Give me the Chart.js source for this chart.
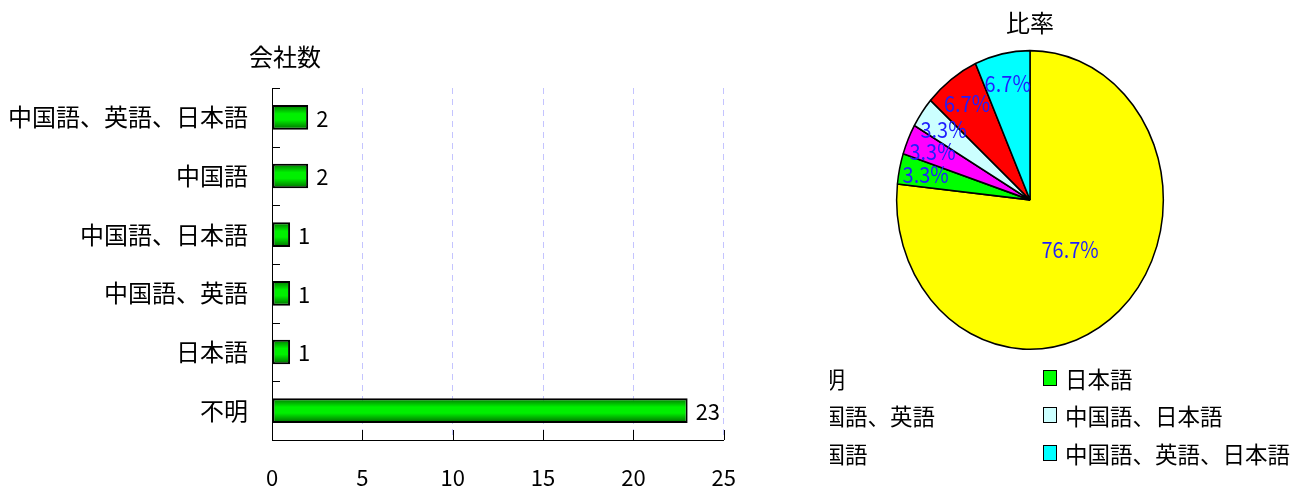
<!DOCTYPE html>
<html>
<head>
<meta charset="utf-8">
<script src="https://cdn.jsdelivr.net/npm/chart.js@4/dist/chart.umd.min.js"></script>
<style>
    body { margin: 0; background: #fff; width: 1307px; height: 493px; position: relative; overflow: hidden; }
    #barChart { position: absolute; left: 0; top: 0; }
    #pieWrap { position: absolute; left: 830px; top: 0; width: 477px; height: 493px; overflow: hidden; }
    #pieChart { position: absolute; left: 0; top: 0; }
    #pieLegend {
        position: absolute; left: -52px; top: 359px;
        display: grid; grid-template-columns: 265px 265px;
        font-family: 'Noto Sans CJK JP', sans-serif; font-size: 22.5px; color: #000;
    }
    #pieLegend .item { height: 37.5px; display: flex; align-items: center; white-space: nowrap; }
    #pieLegend .box { width: 12px; height: 14px; border: 1.5px solid #000; margin-right: 8px; flex: none; }
</style>
</head>
<body>
<canvas id="barChart" width="760" height="493"></canvas>
<div id="pieWrap">
    <canvas id="pieChart" width="400" height="360"></canvas>
    <div id="pieLegend"></div>
</div>
<script>
// 回答企業の使用言語
const categories = ['不明', '日本語', '中国語、英語', '中国語、日本語', '中国語', '中国語、英語、日本語'];
const companyCounts = [23, 1, 1, 1, 2, 2];
const shares = [76.7, 3.3, 3.3, 3.3, 6.7, 6.7];
const xTicks = [0, 5, 10, 15, 20, 25];
const sliceColors = ['#ffff00', '#00ff00', '#ff00ff', '#ccffff', '#ff0000', '#00ffff'];

const FONT = "'Noto Sans CJK JP', sans-serif";

// 棒の内側の目盛り、数値ラベル、タイトル
var barDecor = {
    id: 'barDecor',
    afterDatasetsDraw: function (chart) {
        var ctx = chart.ctx;
        var meta = chart.getDatasetMeta(0);
        ctx.save();
        ctx.fillStyle = '#000';
        ctx.font = '22px ' + FONT;
        ctx.textAlign = 'left';
        ctx.textBaseline = 'middle';
        meta.data.forEach(function (bar, i) {
            ctx.fillText(companyCounts[i], bar.x + 8, bar.y + 1);
        });
        ctx.restore();
    },
    afterDraw: function (chart) {
        var ctx = chart.ctx;
        var a = chart.chartArea;
        var x = chart.scales.x, y = chart.scales.y;
        ctx.save();
        ctx.strokeStyle = '#000';
        ctx.lineWidth = 1;
        ctx.beginPath();
        x.ticks.forEach(function (t) {
            var px = Math.round(x.getPixelForValue(t.value)) + 0.5;
            ctx.moveTo(px, a.bottom);
            ctx.lineTo(px, a.bottom - 10);
        });
        for (var i = 0; i <= categories.length; i++) {
            var py = Math.round(y.getPixelForValue(i - 0.5)) + 0.5;
            ctx.moveTo(a.left, py);
            ctx.lineTo(a.left + 8, py);
        }
        ctx.stroke();

        ctx.fillStyle = '#000';
        ctx.font = '24px ' + FONT;
        ctx.textAlign = 'center';
        ctx.textBaseline = 'middle';
        ctx.fillText('会社数', a.left + 13, 57);
        ctx.restore();
    }
};

var barCtx = document.getElementById('barChart').getContext('2d');
var barChart = new Chart(barCtx, {
    type: 'bar',
    data: {
        labels: categories,
        datasets: [{
            data: companyCounts,
            backgroundColor: function (c) {
                var y = c.chart.scales.y;
                if (!y || y.top === undefined) {
                    return '#00e000';
                }
                var mid = y.getPixelForValue(c.dataIndex);
                var g = c.chart.ctx.createLinearGradient(0, mid - 12, 0, mid + 12);
                g.addColorStop(0, '#007800');
                g.addColorStop(0.35, '#00f000');
                g.addColorStop(0.6, '#00f000');
                g.addColorStop(1, '#006c00');
                return g;
            },
            borderColor: '#000',
            borderWidth: 2,
            borderSkipped: false,
            barPercentage: 0.42,
            categoryPercentage: 1,
        }],
    },
    options: {
        indexAxis: 'y',
        responsive: false,
        animation: false,
        layout: {
            padding: { left: 0, top: 88, right: 36, bottom: 0 },
        },
        plugins: {
            legend: { display: false },
            tooltip: { enabled: false },
        },
        scales: {
            x: {
                min: 0,
                max: 25,
                afterBuildTicks: function (scale) {
                    scale.ticks = xTicks.map(function (v) { return { value: v }; });
                },
                afterFit: function (scale) {
                    scale.height = 53;
                },
                grid: {
                    color: function (c) {
                        return c.tick && c.tick.value === 0 ? 'rgba(0,0,0,0)' : '#c4c4ff';
                    },
                    lineWidth: 1,
                    drawTicks: false,
                },
                border: { display: true, color: '#000', width: 1, dash: [6, 5] },
                ticks: {
                    color: '#000',
                    font: { family: FONT, size: 22 },
                    padding: 24,
                    maxRotation: 0,
                },
            },
            y: {
                reverse: true,
                afterFit: function (scale) {
                    scale.width = 272;
                },
                grid: { display: false, drawTicks: false },
                border: { display: true, color: '#000', width: 1 },
                ticks: {
                    color: '#000',
                    font: { family: FONT, size: 24 },
                    padding: 24,
                },
            },
        },
    },
    plugins: [barDecor],
});

// 円グラフは縦に少し伸ばして描く
var PIE_STRETCH = 1.12;
var pieDecor = {
    id: 'pieDecor',
    beforeDatasetsDraw: function (chart) {
        var arc = chart.getDatasetMeta(0).data[0];
        var ctx = chart.ctx;
        ctx.save();
        ctx.translate(arc.x, arc.y);
        ctx.scale(1, PIE_STRETCH);
        ctx.translate(-arc.x, -arc.y);
    },
    afterDatasetsDraw: function (chart) {
        var ctx = chart.ctx;
        var meta = chart.getDatasetMeta(0);
        ctx.fillStyle = '#1e1eff';
        ctx.font = '20px ' + FONT;
        ctx.textAlign = 'center';
        ctx.textBaseline = 'middle';
        meta.data.forEach(function (arc, i) {
            var mid = (arc.startAngle + arc.endAngle) / 2;
            var f = shares[i] > 50 ? 0.45 : 0.8;
            var lx = arc.x + Math.cos(mid) * arc.outerRadius * f;
            var ly = arc.y + Math.sin(mid) * arc.outerRadius * f;
            ctx.fillText(shares[i].toFixed(1) + '%', lx, ly);
        });
        ctx.restore();
    }
};

var pieCtx = document.getElementById('pieChart').getContext('2d');
var pieChart = new Chart(pieCtx, {
    type: 'pie',
    data: {
        labels: categories,
        datasets: [{
            data: shares,
            backgroundColor: sliceColors,
            borderColor: '#000',
            borderWidth: 1.5,
        }],
    },
    options: {
        responsive: false,
        animation: false,
        layout: {
            padding: { top: 0, bottom: 26, left: 0, right: 0 },
        },
        plugins: {
            legend: { display: false },
            tooltip: { enabled: false },
            title: {
                display: true,
                text: '比率',
                color: '#000',
                font: { family: FONT, size: 24, weight: 'normal' },
                padding: { top: 8, bottom: 29 },
            },
        },
    },
    plugins: [pieDecor],
});

// 凡例
var legendHtml = '';
categories.forEach(function (name, i) {
    legendHtml += '<div class="item"><span class="box" style="background:' + sliceColors[i] + '"></span>' + name + '</div>';
});
document.getElementById('pieLegend').innerHTML = legendHtml;
</script>
</body>
</html>
